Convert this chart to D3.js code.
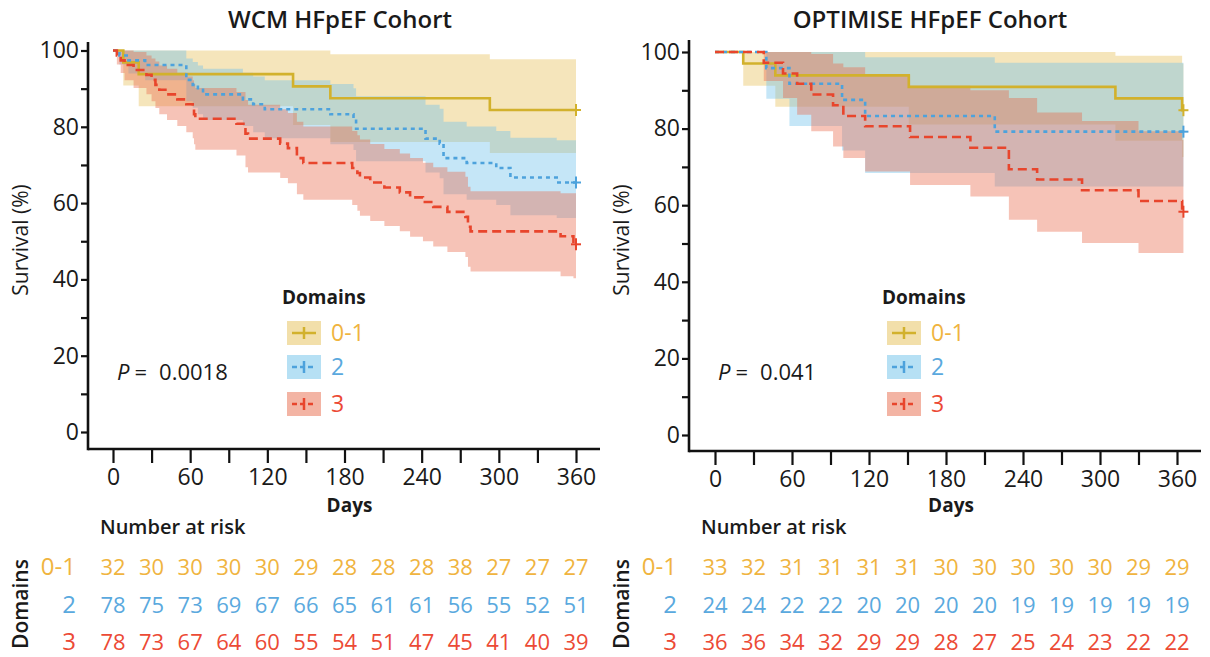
<!doctype html>
<html>
<head>
<meta charset="utf-8">
<title>HFpEF survival</title>
<script src="https://d3js.org/d3.v7.min.js"></script>
<style>
  body { margin: 0; background: #fff; }
  text { font-family: "Open Sans", sans-serif; fill: #1a1a1a; }
</style>
</head>
<body>
<div id="chart"></div>
<script>

// ---- data ----
// rows: [day, survival %, lower CI, upper CI]
const wcm01 = [[0,100,100,100],[8,96.9,90.8,100],[20,93.8,85.4,100],[140,90.6,80.5,100],[169,87.5,76.0,99.0],[293,84.4,73.1,97.7]];
const wcm2 = [[0,100,100,100],[5,98.7,96.3,100],[12,97.4,94.0,100],[25,96.2,92.2,100],[57,92.3,86.7,97.9],
  [62,91.0,85.0,97.0],[66,89.7,83.3,96.1],[70,88.5,81.8,95.2],[101,87.2,80.2,94.2],[109,85.9,78.6,93.2],
  [118,84.6,77.0,92.2],[169,83.3,75.4,91.2],[187,82.0,73.9,90.1],[189,79.5,71.0,88.0],[243,76.9,68.0,85.8],
  [254,75.6,66.5,84.7],[257,71.8,62.3,81.3],[275,70.5,60.9,80.1],[298,69.2,59.5,78.9],[309,66.7,56.8,77.1],
  [345,65.4,56.1,76.5]];
const wcm3 = [[0,100,100,100],[3,98.7,96.3,100],[6,97.4,94.1,100],[9,96.2,92.2,100],[16,94.9,90.2,99.6],
  [26,93.6,88.5,98.7],[30,92.3,86.7,97.9],[33,91.0,84.9,97.1],[36,89.7,83.3,96.1],[42,88.5,81.8,95.2],
  [50,87.2,80.2,94.2],[57,85.9,78.6,93.2],[62,84.6,77.0,92.2],[63,83.3,75.4,91.2],[64,82.1,74.0,90.2],
  [96,80.8,72.5,89.1],[103,78.2,69.4,87.0],[105,76.9,68.0,85.8],[130,75.6,66.6,84.6],[136,74.4,65.2,83.6],
  [143,71.8,62.3,81.3],[148,70.5,60.9,80.1],[186,69.2,59.5,78.9],[190,67.9,58.0,77.8],[192,66.7,56.7,76.7],
  [200,65.4,55.3,75.5],[211,64.1,54.0,74.2],[223,62.8,52.6,73.0],[231,61.5,51.2,71.8],[241,60.3,50.0,70.6],
  [249,59.0,48.6,69.4],[260,57.7,47.2,68.2],[274,56.4,45.9,66.9],[276,53.8,43.3,64.3],[278,52.6,42.1,63.1],
  [348,51.3,40.8,62.6],[358,49.2,40.3,62.6]];

const opt01 = [[0,100,100,100],[22,97.0,91.2,100],[47,93.9,85.7,100],[151,90.9,81.1,100],[312,87.9,76.8,99.0],[364,84.8,72.6,97.0]];
const opt2 = [[0,100,100,100],[40,95.8,87.8,100],[58,91.7,80.7,100],[99,87.5,74.3,100],[117,83.3,68.4,98.6],[218,79.2,64.9,97.2]];
const opt3 = [[0,100,100,100],[38,97.2,92.4,100],[53,94.4,88.0,100],[64,91.7,83.6,100],[75,88.9,79.3,99.5],
  [92,86.1,75.3,97.0],[100,83.3,72.3,96.0],[117,80.6,68.8,94.0],[152,77.8,65.3,91.2],[199,75.0,62.3,90.0],
  [229,69.4,56.2,88.0],[251,66.7,53.1,84.2],[286,63.9,50.1,82.0],[330,61.1,47.5,79.3],[364,58.3,47.5,77.0]];

const groups = ["0-1", "2", "3"];
const riskDays = [0,30,60,90,120,150,180,210,240,270,300,330,360];
const wcmRisk01 = [32,30,30,30,30,29,28,28,28,38,27,27,27];
const wcmRisk2  = [78,75,73,69,67,66,65,61,61,56,55,52,51];
const wcmRisk3  = [78,73,67,64,60,55,54,51,47,45,41,40,39];
const optRisk01 = [33,32,31,31,31,31,30,30,30,30,30,29,29];
const optRisk2  = [24,24,22,22,20,20,20,20,19,19,19,19,19];
const optRisk3  = [36,36,34,32,29,29,28,27,25,24,23,22,22];

const xTicks = [0,30,60,90,120,150,180,210,240,270,300,330,360];
const yTicks = [0,10,20,30,40,50,60,70,80,90,100];

// ---- styling ----
const lineCol = ["#d2b12c", "#4da2dc", "#e8452c"];
const fillCol = ["#e6bf55", "#6ec1ea", "#e8694a"];
const textCol = ["#f0b43f", "#5aa9de", "#ec4a35"];
const dash = [null, "4,4", "9,5"];

const svg = d3.select("#chart").append("svg")
  .attr("width", 1210).attr("height", 657);

function drawPanel(cfg) {
  const g = svg.append("g");
  const x = d3.scaleLinear().domain([0, 360]).range(cfg.xr);
  const y = d3.scaleLinear().domain([0, 100]).range(cfg.yr);

  g.append("text").attr("x", cfg.titleX).attr("y", 28)
    .attr("text-anchor", "middle").attr("font-size", 24).attr("font-weight", 600)
    .text(cfg.title);

  // CI bands
  cfg.series.forEach((s, i) => {
    const pts = s.concat([[cfg.endDay, ...s[s.length - 1].slice(1)]]);
    const area = d3.area().curve(d3.curveStepAfter)
      .x(d => x(d[0])).y0(d => y(d[2])).y1(d => y(d[3]));
    g.append("path").datum(pts).attr("d", area)
      .attr("fill", fillCol[i]).attr("fill-opacity", 0.4);
  });
  // survival lines
  cfg.series.forEach((s, i) => {
    const pts = s.concat([[cfg.endDay, ...s[s.length - 1].slice(1)]]);
    const line = d3.line().curve(d3.curveStepAfter).x(d => x(d[0])).y(d => y(d[1]));
    g.append("path").datum(pts).attr("d", line)
      .attr("fill", "none").attr("stroke", lineCol[i]).attr("stroke-width", 2.6)
      .attr("stroke-dasharray", dash[i]);
    const last = pts[pts.length - 1];
    g.append("line").attr("x1", x(last[0])).attr("x2", x(last[0]))
      .attr("y1", y(last[1]) - 6).attr("y2", y(last[1]) + 6)
      .attr("stroke", lineCol[i]).attr("stroke-width", 2);
    g.append("line").attr("x1", x(last[0]) - 5).attr("x2", x(last[0]) + 5)
      .attr("y1", y(last[1])).attr("y2", y(last[1]))
      .attr("stroke", lineCol[i]).attr("stroke-width", 2);
  });

  // axes
  const ya = g.append("g").attr("transform", `translate(${cfg.axX},0)`)
    .call(d3.axisLeft(y).tickValues(yTicks).tickSize(7).tickPadding(2)
      .tickFormat(d => d % 20 === 0 ? d : ""));
  const xa = g.append("g").attr("transform", `translate(0,${cfg.axY})`)
    .call(d3.axisBottom(x).tickValues(xTicks).tickSize(14).tickPadding(6)
      .tickFormat(d => d % 60 === 0 ? d : ""));
  [ya, xa].forEach(a => {
    a.select(".domain").remove();
    a.selectAll("line").attr("stroke", "#111").attr("stroke-width", 2.2);
    a.selectAll("text").attr("font-size", 23).attr("fill", "#1a1a1a")
      .style("font-family", '"Open Sans", sans-serif');
  });
  g.append("line").attr("x1", cfg.axX).attr("x2", cfg.axX)
    .attr("y1", cfg.axTop).attr("y2", cfg.axY + 1.2)
    .attr("stroke", "#111").attr("stroke-width", 2.6);
  g.append("line").attr("x1", cfg.axX).attr("x2", cfg.axRight)
    .attr("y1", cfg.axY).attr("y2", cfg.axY)
    .attr("stroke", "#111").attr("stroke-width", 2.6);

  g.append("text").attr("transform", `translate(${cfg.axX - 60},240) rotate(-90)`)
    .attr("text-anchor", "middle").attr("font-size", 21).attr("font-weight", 500)
    .text("Survival (%)");
  g.append("text").attr("x", (cfg.xr[0] + cfg.xr[1]) / 2 + 5).attr("y", 512)
    .attr("text-anchor", "middle").attr("font-size", 19).attr("font-weight", 700)
    .text("Days");

  // P value
  const p = g.append("text").attr("x", cfg.axX + 29).attr("y", 380).attr("font-size", 22);
  p.append("tspan").attr("font-style", "italic").text("P");
  p.append("tspan").attr("dx", 5).text("=");
  p.append("tspan").attr("dx", 12).text(cfg.p);

  // legend
  g.append("text").attr("x", cfg.legX - 5).attr("y", 304)
    .attr("font-size", 19).attr("font-weight", 700).text("Domains");
  const legY = [333, 367, 404];
  groups.forEach((k, i) => {
    const cy = legY[i];
    g.append("rect").attr("x", cfg.legX).attr("y", cy - 12).attr("width", 34).attr("height", 24)
      .attr("fill", fillCol[i]).attr("fill-opacity", 0.5);
    g.append("line").attr("x1", cfg.legX + 5).attr("x2", cfg.legX + 29)
      .attr("y1", cy).attr("y2", cy).attr("stroke", lineCol[i]).attr("stroke-width", 2.5)
      .attr("stroke-dasharray", i === 0 ? null : "5,3");
    g.append("line").attr("x1", cfg.legX + 17).attr("x2", cfg.legX + 17)
      .attr("y1", cy - 6).attr("y2", cy + 6).attr("stroke", lineCol[i]).attr("stroke-width", 2.5);
    g.append("text").attr("x", cfg.legX + 44).attr("y", cy + 8)
      .attr("font-size", 23).style("fill", textCol[i]).text(k);
  });

  // number at risk table
  g.append("text").attr("x", cfg.axX + 12).attr("y", 534)
    .attr("font-size", 20).attr("font-weight", 600).text("Number at risk");
  g.append("text").attr("transform", `translate(${cfg.axX - 60},604) rotate(-90)`)
    .attr("text-anchor", "middle").attr("font-size", 21).attr("font-weight", 600)
    .text("Domains");
  const rowY = [575, 613, 650];
  cfg.risk.forEach((row, i) => {
    g.append("text").attr("x", cfg.axX - 12).attr("y", rowY[i])
      .attr("text-anchor", "end").attr("font-size", 24).style("fill", textCol[i]).text(groups[i]);
    g.selectAll(null).data(row).enter().append("text")
      .attr("x", (d, j) => x(riskDays[j])).attr("y", rowY[i])
      .attr("text-anchor", "middle").attr("font-size", 22).style("fill", textCol[i])
      .text(d => d);
  });
}

drawPanel({
  title: "WCM HFpEF Cohort", titleX: 340,
  xr: [113, 576], yr: [432, 50.5], axX: 88, axY: 449, axTop: 42, axRight: 600,
  endDay: 360, series: [wcm01, wcm2, wcm3], risk: [wcmRisk01, wcmRisk2, wcmRisk3],
  p: "0.0018", legX: 287
});
drawPanel({
  title: "OPTIMISE HFpEF Cohort", titleX: 930,
  xr: [715, 1177], yr: [435, 52], axX: 689, axY: 451, axTop: 40, axRight: 1201,
  endDay: 365, series: [opt01, opt2, opt3], risk: [optRisk01, optRisk2, optRisk3],
  p: "0.041", legX: 887
});
</script>
</body>
</html>
